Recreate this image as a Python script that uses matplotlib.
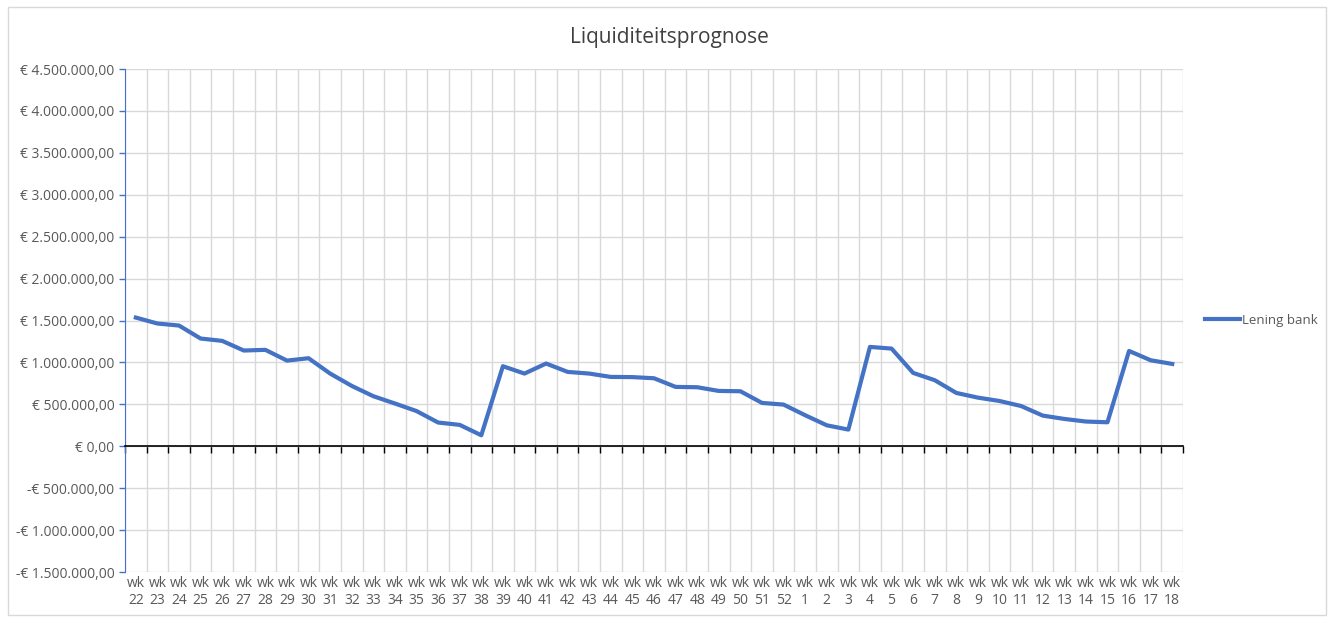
import matplotlib.pyplot as plt
from matplotlib.ticker import FuncFormatter, FixedLocator
from matplotlib.patches import Rectangle

# Data
weeks = list(range(22, 53)) + list(range(1, 19))
labels = [f"wk\n{w}" for w in weeks]
lening_bank = [
    1535000, 1464000, 1440000, 1285000, 1257000, 1142000, 1150000, 1022000, 1050000, 867000,
    720000, 597000, 510000, 420000, 283000, 255000, 131000, 955000, 867000, 987000,
    887000, 867000, 827000, 825000, 811000, 708000, 704000, 660000, 656000, 517000,
    497000, 370000, 250000, 199000, 1185000, 1165000, 875000, 788000, 636000, 580000,
    540000, 480000, 366000, 326000, 295000, 286000, 1137000, 1026000, 982000,
]

grey = '#595959'
blue = '#4472C4'
grid = '#D9D9D9'
plt.rcParams['font.family'] = ['Open Sans', 'DejaVu Sans']

def euro(v, pos=None):
    s = f"{abs(v):,.2f}".replace(',', 'X').replace('.', ',').replace('X', '.')
    return ('-€ ' if v < 0 else '€ ') + s

fig = plt.figure(figsize=(13.33, 6.2), dpi=100)
fig.patches.append(Rectangle((0.006, 0.008), 0.989, 0.98, transform=fig.transFigure,
                             fill=False, edgecolor='#D9D9D9', linewidth=1))
ax = fig.add_axes([0.0938, 0.0774, 0.7937, 0.8113])

x = list(range(len(weeks)))
ax.plot(x, lening_bank, color=blue, linewidth=3, label='Lening bank', solid_joinstyle='round')

ax.set_xlim(-0.5, len(weeks) - 0.5)
ax.set_ylim(-1500000, 4500000)
ax.set_yticks(range(-1500000, 4500001, 500000))
ax.yaxis.set_major_formatter(FuncFormatter(euro))
ax.tick_params(axis='y', colors=blue, length=4, width=1, labelcolor=grey, labelsize=10)

# vertical gridlines on category boundaries, axis line at zero
bounds = [i - 0.5 for i in range(len(weeks) + 1)]
ax.xaxis.set_major_locator(FixedLocator(bounds))
ax.set_xticklabels([])
ax.tick_params(axis='x', length=5, width=1, color='black', direction='out')
ax.grid(True, color=grid, linewidth=1)
ax.set_axisbelow(True)
for s in ['top', 'right']:
    ax.spines[s].set_visible(False)
ax.spines['left'].set_color(blue)
ax.spines['bottom'].set_position(('data', 0))
ax.spines['bottom'].set_color('black')
ax.spines['bottom'].set_linewidth(1.2)

sec = ax.secondary_xaxis(0)
sec.set_xticks(x)
sec.set_xticklabels(labels)
sec.tick_params(length=0, labelsize=10, labelcolor=grey, pad=3)
sec.spines['bottom'].set_visible(False)

fig.text(0.502, 0.94, 'Liquiditeitsprognose', ha='center', va='center', fontsize=15, color='#404040')
ax.legend(loc='center left', bbox_to_anchor=(1.01, 0.5), frameon=False, fontsize=9.5,
          labelcolor=grey, handlelength=2.6, handletextpad=0.2)

fig.savefig('out.png', dpi=100)
